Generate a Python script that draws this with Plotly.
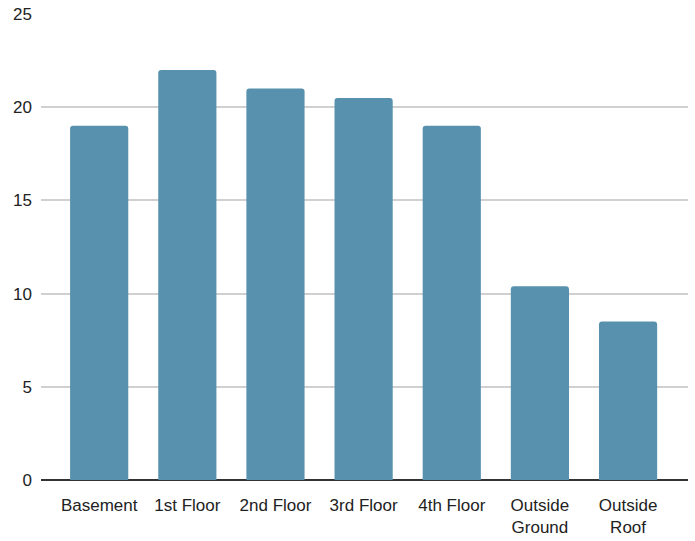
import plotly.graph_objects as go

categories = ["Basement", "1st Floor", "2nd Floor", "3rd Floor", "4th Floor",
              "Outside<br>Ground", "Outside<br>Roof"]
values = [19, 22, 21, 20.5, 19, 10.4, 8.5]
y_ticks = [0, 5, 10, 15, 20, 25]

fig = go.Figure(go.Bar(
    x=list(range(len(categories))),
    y=values,
    width=0.66,
    marker=dict(color="#5891ae", line=dict(width=0), cornerradius=3),
))

font_family = "Liberation Sans Narrow, Arial Narrow, Liberation Sans, Arial"

fig.update_layout(
    width=695, height=541,
    margin=dict(l=41, r=7, t=14, b=61, autoexpand=False),
    paper_bgcolor="white", plot_bgcolor="white",
    font=dict(family=font_family, size=17, color="#222222"),
    showlegend=False,
)
fig.update_xaxes(
    tickmode="array", tickvals=list(range(len(categories))), ticktext=categories,
    range=[-0.66, 6.68], showgrid=False, showline=False, ticks="",
    zeroline=False, ticklabelstandoff=13, automargin=False,
    tickfont=dict(size=17, family=font_family, color="#222222"),
)
fig.update_yaxes(
    range=[0, 25], tickvals=y_ticks, showgrid=True, gridcolor="#d0d0d0", gridwidth=1.5,
    zeroline=True, zerolinecolor="#333333", zerolinewidth=1.5,
    showline=False, ticks="", ticklabelstandoff=8, automargin=False,
    tickfont=dict(size=17, family=font_family, color="#222222"),
)

fig.write_html("out.html")
